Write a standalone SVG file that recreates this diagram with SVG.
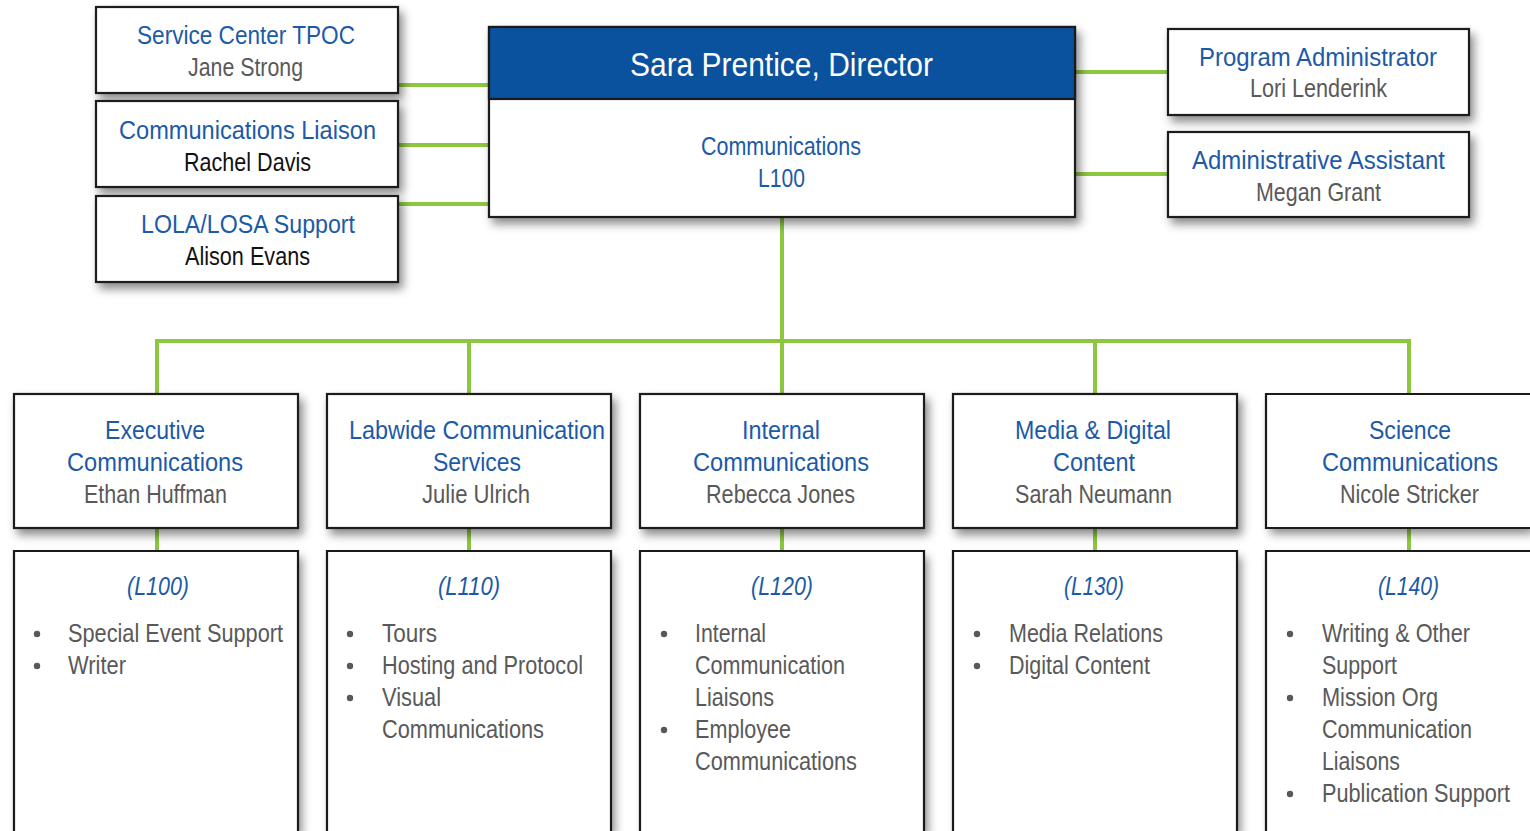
<svg xmlns="http://www.w3.org/2000/svg" width="1530" height="831" viewBox="0 0 1530 831">
<defs>
<filter id="sh" x="-10%" y="-10%" width="130%" height="140%">
<feDropShadow dx="4" dy="6" stdDeviation="5" flood-color="#000" flood-opacity="0.45"/>
</filter>
<style>
.box{fill:#fff;stroke:#1a1a1a;stroke-width:2.2;filter:url(#sh)}
.fb{fill:#fff;filter:url(#sh)}
.ed{fill:none;stroke:#1a1a1a;stroke-width:2.2}
.ln{stroke:#8dc63f;stroke-width:4;fill:none}
text{font-family:"Liberation Sans",Arial,sans-serif}
.t{font-size:26px;fill:#1c5aa8}
.n{font-size:26px;fill:#595959}
.k{font-size:26px;fill:#111}
.s{font-size:25px;fill:#1c5aa8}
.g{font-size:25px;fill:#595959}
.i{font-size:25px;fill:#1c5aa8;font-style:italic}
.b{fill:#595959}
</style>
</defs>
<rect width="1530" height="831" fill="#fff"/>

<g id="connectors">
<line class="ln" x1="398" y1="85" x2="489" y2="85"/>
<line class="ln" x1="398" y1="145" x2="489" y2="145"/>
<line class="ln" x1="398" y1="204" x2="489" y2="204"/>
<line class="ln" x1="1075" y1="72" x2="1168" y2="72"/>
<line class="ln" x1="1075" y1="174" x2="1168" y2="174"/>
<line class="ln" x1="782" y1="217" x2="782" y2="394"/>
<polyline class="ln" points="157,394 157,341 1409,341 1409,394"/>
<line class="ln" x1="469" y1="341" x2="469" y2="394"/>
<line class="ln" x1="1095" y1="341" x2="1095" y2="394"/>
<line class="ln" x1="157" y1="528" x2="157" y2="551"/>
<line class="ln" x1="469" y1="528" x2="469" y2="551"/>
<line class="ln" x1="782" y1="528" x2="782" y2="551"/>
<line class="ln" x1="1095" y1="528" x2="1095" y2="551"/>
<line class="ln" x1="1409" y1="528" x2="1409" y2="551"/>
</g>

<g id="tpoc">
<rect class="box" x="96" y="7" width="302" height="86"/>
<text class="t" x="137" y="44" textLength="218" lengthAdjust="spacingAndGlyphs">Service Center TPOC</text>
<text class="n" x="188" y="76" textLength="115" lengthAdjust="spacingAndGlyphs">Jane Strong</text>
</g>
<g id="liaison">
<rect class="box" x="96" y="101" width="302" height="86"/>
<text class="t" x="119" y="139" textLength="257" lengthAdjust="spacingAndGlyphs">Communications Liaison</text>
<text class="k" x="184" y="171" textLength="127" lengthAdjust="spacingAndGlyphs">Rachel Davis</text>
</g>
<g id="lola">
<rect class="box" x="96" y="196" width="302" height="86"/>
<text class="t" x="141" y="233" textLength="214" lengthAdjust="spacingAndGlyphs">LOLA/LOSA Support</text>
<text class="k" x="185" y="265" textLength="125" lengthAdjust="spacingAndGlyphs">Alison Evans</text>
</g>

<g id="director">
<rect class="box" x="489" y="27" width="586" height="190"/>
<rect x="489" y="27" width="586" height="72" fill="#0a519e" stroke="#1a1a1a" stroke-width="2.2"/>
<text x="630" y="76" font-size="34" fill="#fff" textLength="303" lengthAdjust="spacingAndGlyphs">Sara Prentice, Director</text>
<text class="s" x="701" y="155" textLength="160" lengthAdjust="spacingAndGlyphs">Communications</text>
<text class="s" x="758" y="187" textLength="47" lengthAdjust="spacingAndGlyphs">L100</text>
</g>

<g id="progadmin">
<rect class="box" x="1168" y="29" width="301" height="86"/>
<text class="t" x="1199" y="66" textLength="238" lengthAdjust="spacingAndGlyphs">Program Administrator</text>
<text class="n" x="1250" y="97" textLength="137" lengthAdjust="spacingAndGlyphs">Lori Lenderink</text>
</g>
<g id="adminasst">
<rect class="box" x="1168" y="132" width="301" height="85"/>
<text class="t" x="1192" y="169" textLength="253" lengthAdjust="spacingAndGlyphs">Administrative Assistant</text>
<text class="n" x="1256" y="201" textLength="125" lengthAdjust="spacingAndGlyphs">Megan Grant</text>
</g>

<g id="exec">
<rect class="box" x="14" y="394" width="284" height="134"/>
<text class="s" x="105" y="439" textLength="100" lengthAdjust="spacingAndGlyphs">Executive</text>
<text class="s" x="67" y="471" textLength="176" lengthAdjust="spacingAndGlyphs">Communications</text>
<text class="g" x="84" y="503" textLength="143" lengthAdjust="spacingAndGlyphs">Ethan Huffman</text>
</g>
<g id="labwide">
<rect class="box" x="327" y="394" width="284" height="134"/>
<text class="s" x="349" y="439" textLength="256" lengthAdjust="spacingAndGlyphs">Labwide Communication</text>
<text class="s" x="433" y="471" textLength="88" lengthAdjust="spacingAndGlyphs">Services</text>
<text class="g" x="422" y="503" textLength="108" lengthAdjust="spacingAndGlyphs">Julie Ulrich</text>
</g>
<g id="internal">
<rect class="box" x="640" y="394" width="284" height="134"/>
<text class="s" x="742" y="439" textLength="78" lengthAdjust="spacingAndGlyphs">Internal</text>
<text class="s" x="693" y="471" textLength="176" lengthAdjust="spacingAndGlyphs">Communications</text>
<text class="g" x="706" y="503" textLength="149" lengthAdjust="spacingAndGlyphs">Rebecca Jones</text>
</g>
<g id="media">
<rect class="box" x="953" y="394" width="284" height="134"/>
<text class="s" x="1015" y="439" textLength="156" lengthAdjust="spacingAndGlyphs">Media &amp; Digital</text>
<text class="s" x="1053" y="471" textLength="82" lengthAdjust="spacingAndGlyphs">Content</text>
<text class="g" x="1015" y="503" textLength="157" lengthAdjust="spacingAndGlyphs">Sarah Neumann</text>
</g>
<g id="science">
<rect class="fb" x="1266" y="394" width="264" height="134"/>
<path class="ed" d="M1530,394 H1266 V528 H1530"/>
<text class="s" x="1369" y="439" textLength="82" lengthAdjust="spacingAndGlyphs">Science</text>
<text class="s" x="1322" y="471" textLength="176" lengthAdjust="spacingAndGlyphs">Communications</text>
<text class="g" x="1340" y="503" textLength="139" lengthAdjust="spacingAndGlyphs">Nicole Stricker</text>
</g>

<g id="l100">
<rect class="fb" x="14" y="551" width="284" height="280"/>
<path class="ed" d="M14,831 V551 H298 V831"/>
<text class="i" x="127" y="595" textLength="62" lengthAdjust="spacingAndGlyphs">(L100)</text>
<circle class="b" cx="37" cy="634" r="3.2"/>
<circle class="b" cx="37" cy="666" r="3.2"/>
<text class="g" x="68" y="642" textLength="215" lengthAdjust="spacingAndGlyphs">Special Event Support</text>
<text class="g" x="68" y="674" textLength="58" lengthAdjust="spacingAndGlyphs">Writer</text>
</g>
<g id="l110">
<rect class="fb" x="327" y="551" width="284" height="280"/>
<path class="ed" d="M327,831 V551 H611 V831"/>
<text class="i" x="438" y="595" textLength="62" lengthAdjust="spacingAndGlyphs">(L110)</text>
<circle class="b" cx="350" cy="634" r="3.2"/>
<circle class="b" cx="350" cy="666" r="3.2"/>
<circle class="b" cx="350" cy="698" r="3.2"/>
<text class="g" x="382" y="642" textLength="55" lengthAdjust="spacingAndGlyphs">Tours</text>
<text class="g" x="382" y="674" textLength="201" lengthAdjust="spacingAndGlyphs">Hosting and Protocol</text>
<text class="g" x="382" y="706" textLength="59" lengthAdjust="spacingAndGlyphs">Visual</text>
<text class="g" x="382" y="738" textLength="162" lengthAdjust="spacingAndGlyphs">Communications</text>
</g>
<g id="l120">
<rect class="fb" x="640" y="551" width="284" height="280"/>
<path class="ed" d="M640,831 V551 H924 V831"/>
<text class="i" x="751" y="595" textLength="62" lengthAdjust="spacingAndGlyphs">(L120)</text>
<circle class="b" cx="664" cy="634" r="3.2"/>
<circle class="b" cx="664" cy="730" r="3.2"/>
<text class="g" x="695" y="642" textLength="71" lengthAdjust="spacingAndGlyphs">Internal</text>
<text class="g" x="695" y="674" textLength="150" lengthAdjust="spacingAndGlyphs">Communication</text>
<text class="g" x="695" y="706" textLength="79" lengthAdjust="spacingAndGlyphs">Liaisons</text>
<text class="g" x="695" y="738" textLength="96" lengthAdjust="spacingAndGlyphs">Employee</text>
<text class="g" x="695" y="770" textLength="162" lengthAdjust="spacingAndGlyphs">Communications</text>
</g>
<g id="l130">
<rect class="fb" x="953" y="551" width="284" height="280"/>
<path class="ed" d="M953,831 V551 H1237 V831"/>
<text class="i" x="1064" y="595" textLength="60" lengthAdjust="spacingAndGlyphs">(L130)</text>
<circle class="b" cx="977" cy="634" r="3.2"/>
<circle class="b" cx="977" cy="666" r="3.2"/>
<text class="g" x="1009" y="642" textLength="154" lengthAdjust="spacingAndGlyphs">Media Relations</text>
<text class="g" x="1009" y="674" textLength="141" lengthAdjust="spacingAndGlyphs">Digital Content</text>
</g>
<g id="l140">
<rect class="fb" x="1266" y="551" width="264" height="280"/>
<path class="ed" d="M1266,831 V551 H1530"/>
<text class="i" x="1378" y="595" textLength="61" lengthAdjust="spacingAndGlyphs">(L140)</text>
<circle class="b" cx="1290" cy="634" r="3.2"/>
<circle class="b" cx="1290" cy="698" r="3.2"/>
<circle class="b" cx="1290" cy="794" r="3.2"/>
<text class="g" x="1322" y="642" textLength="148" lengthAdjust="spacingAndGlyphs">Writing &amp; Other</text>
<text class="g" x="1322" y="674" textLength="75" lengthAdjust="spacingAndGlyphs">Support</text>
<text class="g" x="1322" y="706" textLength="116" lengthAdjust="spacingAndGlyphs">Mission Org</text>
<text class="g" x="1322" y="738" textLength="150" lengthAdjust="spacingAndGlyphs">Communication</text>
<text class="g" x="1322" y="770" textLength="78" lengthAdjust="spacingAndGlyphs">Liaisons</text>
<text class="g" x="1322" y="802" textLength="188" lengthAdjust="spacingAndGlyphs">Publication Support</text>
</g>
</svg>
